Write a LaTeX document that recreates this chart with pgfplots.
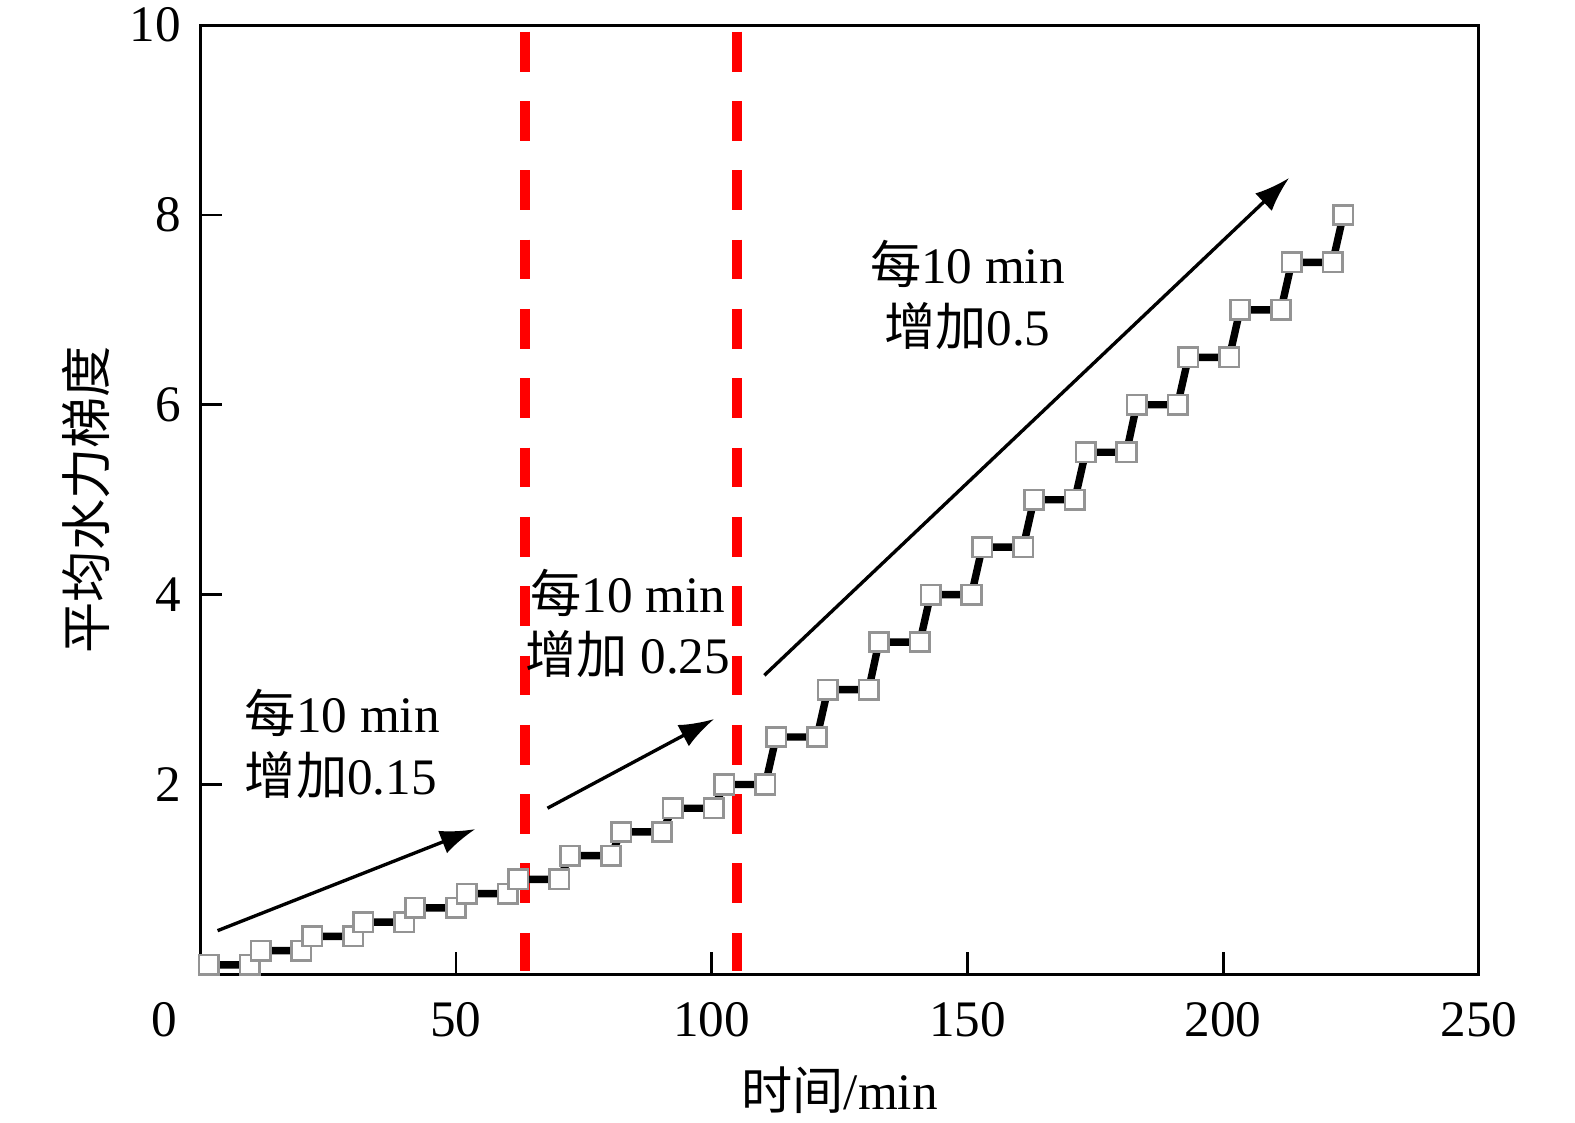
\documentclass[border=0pt]{standalone}
\usepackage{pgfplots}
\pgfplotsset{compat=1.18}
\usetikzlibrary{arrows.meta}
\usepackage{fontspec}
\setmainfont{Liberation Serif}
\newfontfamily\cjk{Noto Sans CJK SC}
\begin{document}
\begin{tikzpicture}[font=\fontsize{14.5}{17}\selectfont]
\path[use as bounding box] (-19.93mm,-14.8mm) rectangle (136.87mm,97.0mm);
\begin{axis}[
  at={(0,0)}, anchor=south west,
  width=127.3mm, height=94.5mm, scale only axis,
  xmin=0, xmax=250, ymin=0, ymax=10,
  xtick={50,100,150,200,250}, ytick={2,4,6,8,10},
  tick pos=left, tick align=inside, major tick length=2.2mm,
  axis line style={line width=0.8pt},
  every tick/.style={black, line width=0.8pt},
  /pgf/number format/assume math mode=true,
  xticklabel style={anchor=center, yshift=-4.5mm},
  yticklabel style={anchor=east, xshift=-0.7mm},
  xlabel={{\cjk 时间}/min},
  ylabel={{\cjk 平均水力梯度}},
  xlabel style={at={(axis description cs:0.5,-0.1217)}, anchor=center},
  ylabel style={at={(axis description cs:-0.0896,0.5)}, anchor=center},
]
\addplot[red, line width=1mm, dash pattern=on 3.96mm off 2.94mm, forget plot]
  coordinates {(63.5,9.93) (63.5,0.03)};
\addplot[red, line width=1mm, dash pattern=on 3.96mm off 2.94mm, forget plot]
  coordinates {(105.0,9.93) (105.0,0.03)};
\addplot[black, line width=2.1pt, mark=square*, mark size=2.75pt,
  mark options={draw=black!42, fill=white, line width=0.75pt, solid}]
  coordinates {
  (1.7,0.1) (9.7,0.1)
  (11.8,0.25) (19.8,0.25)
  (21.9,0.4) (29.9,0.4)
  (31.9,0.55) (39.9,0.55)
  (42.0,0.7) (50.0,0.7)
  (52.1,0.85) (60.1,0.85)
  (62.2,1.0) (70.2,1.0)
  (72.3,1.25) (80.3,1.25)
  (82.3,1.5) (90.3,1.5)
  (92.4,1.75) (100.4,1.75)
  (102.5,2.0) (110.5,2.0)
  (112.6,2.5) (120.6,2.5)
  (122.7,3.0) (130.7,3.0)
  (132.7,3.5) (140.7,3.5)
  (142.8,4.0) (150.8,4.0)
  (152.9,4.5) (160.9,4.5)
  (163.0,5.0) (171.0,5.0)
  (173.1,5.5) (181.1,5.5)
  (183.1,6.0) (191.1,6.0)
  (193.2,6.5) (201.2,6.5)
  (203.3,7.0) (211.3,7.0)
  (213.4,7.5) (221.4,7.5)
  (223.5,8.0)
  };
\draw[-{Latex[length=3.5mm,width=2.4mm]}, line width=0.95pt]
  (axis cs:3.4,0.46) -- (axis cs:53.8,1.53);
\draw[-{Latex[length=3.5mm,width=2.4mm]}, line width=0.95pt]
  (axis cs:67.9,1.75) -- (axis cs:100.5,2.69);
\draw[-{Latex[length=3.5mm,width=2.4mm]}, line width=0.95pt]
  (axis cs:110.3,3.15) -- (axis cs:212.9,8.39);
\node[anchor=west, inner sep=0pt] at (axis cs:8.6,2.75) {{\cjk 每}10 min};
\node[anchor=west, inner sep=0pt] at (axis cs:8.6,2.10) {{\cjk 增加}0.15};
\node[inner sep=0pt] at (axis cs:83.6,4.02) {{\cjk 每}10 min};
\node[inner sep=0pt] at (axis cs:83.6,3.37) {{\cjk 增加} 0.25};
\node[inner sep=0pt] at (axis cs:150,7.48) {{\cjk 每}10 min};
\node[inner sep=0pt] at (axis cs:150,6.83) {{\cjk 增加}0.5};
\end{axis}
\node at (-3.6mm,-4.5mm) {0};
\end{tikzpicture}
\end{document}
